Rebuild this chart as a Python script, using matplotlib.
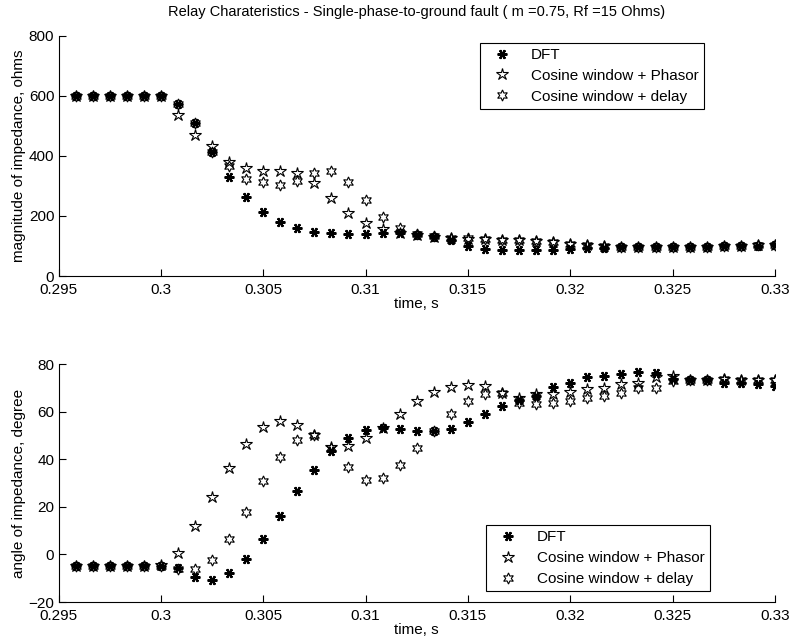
import numpy as np
import matplotlib.pyplot as plt
from matplotlib.ticker import FuncFormatter

plt.rcParams['font.family'] = ['Liberation Sans', 'DejaVu Sans']

# sample instants (20 samples per 60 Hz cycle)
t = 0.295 + np.arange(1, 43) / 1200.0

# magnitude of impedance, ohms
mag_dft = [600, 600, 600, 600, 600, 598, 574, 509, 414, 331, 263, 213, 181, 161,
           147, 142, 140, 140, 143, 142, 137, 130, 120, 100, 90, 88, 87, 87,
           88, 89, 92, 94, 95, 95, 96, 96, 97, 98, 99, 100, 101, 103]
mag_phasor = [600, 600, 600, 600, 600, 600, 536, 469, 433, 380, 359, 350, 348, 344,
              311, 261, 211, 178, 155, 143, 137, 130, 125, 124, 122, 121, 120, 118,
              114, 108, 103, 99, 97, 96, 96, 97, 97, 98, 99, 100, 102, 104]
mag_delay = [600, 600, 600, 600, 600, 600, 574, 509, 414, 365, 322, 313, 303, 317,
             342, 348, 313, 253, 197, 161, 140, 132, 126, 125, 122, 121, 120, 118,
             114, 108, 103, 99, 97, 96, 96, 97, 97, 98, 99, 100, 102, 104]

# angle of impedance, degree
ang_dft = [-5, -5, -5, -5, -5, -5, -5.5, -9.6, -10.9, -7.8, -2.1, 6.7, 16.3, 26.5,
           35.5, 43.5, 48.9, 52.5, 53.2, 52.9, 51.8, 52.1, 52.9, 55.6, 59.3, 62.4, 64.8, 66.7,
           70.5, 72.3, 74.5, 75.2, 75.9, 76.6, 76.2, 74, 73.5, 73.5, 72.3, 72, 71.6, 70.9]
ang_phasor = [-5, -5, -5, -5, -5, -4.5, 0.7, 12, 24, 36.5, 46.4, 53.8, 56.3, 54.3,
              50.4, 45.4, 45.8, 48.9, 53.2, 59.1, 64.5, 68.5, 70.6, 71.2, 70.9, 68.1, 66, 67.7,
              67.7, 68.5, 69.5, 70.2, 71.6, 72.3, 74.5, 75, 73.5, 73.5, 73.8, 73.5, 73.5, 73.5]
ang_delay = [-5, -5, -5, -5, -5, -5, -6, -6, -2.4, 6.4, 18, 30.8, 41.1, 48.2,
             50.1, 44.7, 36.9, 31.2, 32.2, 37.6, 44.7, 52, 58.9, 64.5, 67.4, 68.1, 63.8, 63.4,
             63.8, 64.5, 65.7, 66.7, 68.1, 69.9, 70, 73, 73.5, 73.5, 73.8, 73.5, 73.5, 73.5]

labels = ['DFT', 'Cosine window + Phasor', 'Cosine window + delay']
xticks = [0.295, 0.3, 0.305, 0.31, 0.315, 0.32, 0.325, 0.33]

fig = plt.figure(figsize=(7.96, 6.44), dpi=100)
ax1 = fig.add_axes([0.0735, 0.5714, 0.9, 0.3732])
ax2 = fig.add_axes([0.0735, 0.0652, 0.9, 0.3691])


def draw(ax, y1, y2, y3):
    ax.plot(t, y1, linestyle='none', marker=(6, 2, 90), markersize=7,
            color='black', mew=1.6, label=labels[0])
    ax.plot(t, y2, linestyle='none', marker='*', markersize=9,
            mfc='none', mec='black', mew=0.8, label=labels[1])
    ax.plot(t, y3, linestyle='none', marker=(6, 1, 0), markersize=8,
            mfc='none', mec='black', mew=0.8, label=labels[2])
    ax.set_xlim(0.295, 0.33)
    ax.set_xticks(xticks)
    ax.xaxis.set_major_formatter(FuncFormatter(lambda v, p: '%g' % round(v, 4)))
    ax.spines['top'].set_visible(False)
    ax.spines['right'].set_visible(False)
    ax.tick_params(direction='in', labelsize=11, length=5)
    ax.tick_params(axis='x', pad=5)
    ax.tick_params(axis='y', pad=3)
    ax.set_xlabel('time, s', fontsize=11, labelpad=0)


draw(ax1, mag_dft, mag_phasor, mag_delay)
ax1.set_ylim(0, 800)
ax1.set_yticks([0, 200, 400, 600, 800])
ax1.set_ylabel('magnitude of impedance, ohms', fontsize=11, labelpad=2)
ax1.set_title('Relay Charateristics - Single-phase-to-ground fault ( m =0.75, Rf =15 Ohms)',
              fontsize=10.5, pad=14)

draw(ax2, ang_dft, ang_phasor, ang_delay)
ax2.set_ylim(-20, 80)
ax2.set_yticks([-20, 0, 20, 40, 60, 80])
ax2.set_ylabel('angle of impedance, degree', fontsize=11, labelpad=2)

for ax, anchor in [(ax1, (0.603, 0.934)), (ax2, (0.6106, 0.185))]:
    leg = ax.legend(loc='upper left', bbox_to_anchor=anchor, bbox_transform=fig.transFigure,
                    fontsize=11, frameon=True, fancybox=False, framealpha=1,
                    edgecolor='black', handlelength=2.2, labelspacing=0.45,
                    borderpad=0.35, handletextpad=0.8, borderaxespad=0)
    leg.get_frame().set_linewidth(0.8)

fig.savefig('out.png', dpi=100)
